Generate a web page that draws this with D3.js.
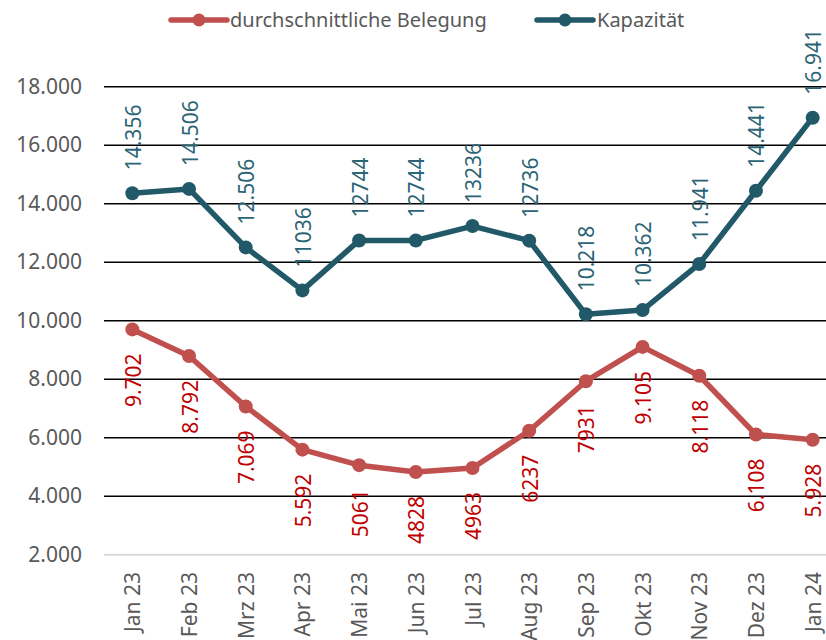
<!DOCTYPE html>
<html>
<head>
<meta charset="utf-8">
<script src="https://cdn.jsdelivr.net/npm/d3@7"></script>
<style>
  html, body { margin: 0; padding: 0; background: #fff; }
  svg { display: block; }
  text { font-family: "Noto Sans", "Open Sans", sans-serif; }
</style>
</head>
<body>
<svg id="chart" width="826" height="640"></svg>
<script>
const categories = ["Jan 23","Feb 23","Mrz 23","Apr 23","Mai 23","Jun 23","Jul 23","Aug 23","Sep 23","Okt 23","Nov 23","Dez 23","Jan 24"];
const belegung = [9702, 8792, 7069, 5592, 5061, 4828, 4963, 6237, 7931, 9105, 8118, 6108, 5928];
const belegungLabels = ["9.702","8.792","7.069","5.592","5061","4828","4963","6237","7931","9.105","8.118","6.108","5.928"];
const kapazitaet = [14356, 14506, 12506, 11036, 12744, 12744, 13236, 12736, 10218, 10362, 11941, 14441, 16941];
const kapazitaetLabels = ["14.356","14.506","12.506","11036","12744","12744","13236","12736","10.218","10.362","11.941","14.441","16.941"];
const yTicks = [2000, 4000, 6000, 8000, 10000, 12000, 14000, 16000, 18000];
const yTickLabels = ["2.000","4.000","6.000","8.000","10.000","12.000","14.000","16.000","18.000"];
const seriesNames = ["durchschnittliche Belegung", "Kapazität"];

const svg = d3.select("#chart");
const redLine = "#C0504D", redText = "#C00000";
const tealLine = "#215968", tealText = "#2A6475";
const grayText = "#595959";

const x = d3.scaleBand().domain(categories).range([104, 841]);
const cx = d => x(d) + x.bandwidth() / 2;
const y = d3.scaleLinear().domain([2000, 18000]).range([554.7, 86.7]);

// gridlines
const grid = svg.append("g");
grid.selectAll("line").data(yTicks).join("line")
  .attr("x1", 104).attr("x2", 826)
  .attr("y1", d => y(d)).attr("y2", d => y(d))
  .attr("stroke", d => d === 2000 ? "#D9D9D9" : "#000")
  .attr("stroke-width", d => d === 2000 ? 2 : 1.6);

// y axis labels
const yAxis = d3.axisLeft(y).tickValues(yTicks)
  .tickFormat((d, i) => yTickLabels[i]).tickSize(0).tickPadding(0);
const yg = svg.append("g").attr("transform", "translate(82,0)").call(yAxis);
yg.select(".domain").remove();
yg.selectAll("text").attr("font-size", 21).attr("fill", grayText)
  .attr("font-family", "Noto Sans, Open Sans, sans-serif");

// x axis labels
const xAxis = d3.axisBottom(x).tickSize(0).tickPadding(0);
const xg = svg.append("g").attr("transform", "translate(0,555)").call(xAxis);
xg.select(".domain").remove();
xg.selectAll("text")
  .attr("font-size", 21).attr("fill", grayText)
  .attr("font-family", "Noto Sans, Open Sans, sans-serif")
  .attr("text-anchor", "end")
  .attr("dy", null).attr("y", null)
  .attr("transform", "translate(8,17) rotate(-90)");

function drawSeries(values, labels, lineColor, textColor, above) {
  const line = d3.line().x((d, i) => cx(categories[i])).y(d => y(d));
  svg.append("path").datum(values)
    .attr("d", line).attr("fill", "none")
    .attr("stroke", lineColor).attr("stroke-width", 5.5)
    .attr("stroke-linejoin", "round");
  svg.append("g").selectAll("circle").data(values).join("circle")
    .attr("cx", (d, i) => cx(categories[i])).attr("cy", d => y(d))
    .attr("r", 7).attr("fill", lineColor);
  svg.append("g").selectAll("text").data(values).join("text")
    .attr("transform", (d, i) => {
      const px = cx(categories[i]) + 8.5;
      const py = above ? y(d) - 23 : y(d) + 24;
      return `translate(${px},${py}) rotate(-90)`;
    })
    .attr("text-anchor", above ? "start" : "end")
    .attr("font-size", 21).attr("fill", textColor)
    .text((d, i) => labels[i]);
}

drawSeries(belegung, belegungLabels, redLine, redText, false);
drawSeries(kapazitaet, kapazitaetLabels, tealLine, tealText, true);

// legend
const legendItems = [
  { name: seriesNames[0], color: redLine, x1: 171, x2: 227, tx: 230 },
  { name: seriesNames[1], color: tealLine, x1: 537, x2: 593, tx: 597 }
];
const lg = svg.append("g");
legendItems.forEach(it => {
  lg.append("line").attr("x1", it.x1).attr("x2", it.x2).attr("y1", 20).attr("y2", 20)
    .attr("stroke", it.color).attr("stroke-width", 5.5).attr("stroke-linecap", "round");
  lg.append("circle").attr("cx", (it.x1 + it.x2) / 2).attr("cy", 20).attr("r", 6.5).attr("fill", it.color);
  lg.append("text").attr("x", it.tx).attr("y", 27).attr("font-size", 20)
    .attr("fill", grayText).text(it.name);
});
</script>
</body>
</html>
